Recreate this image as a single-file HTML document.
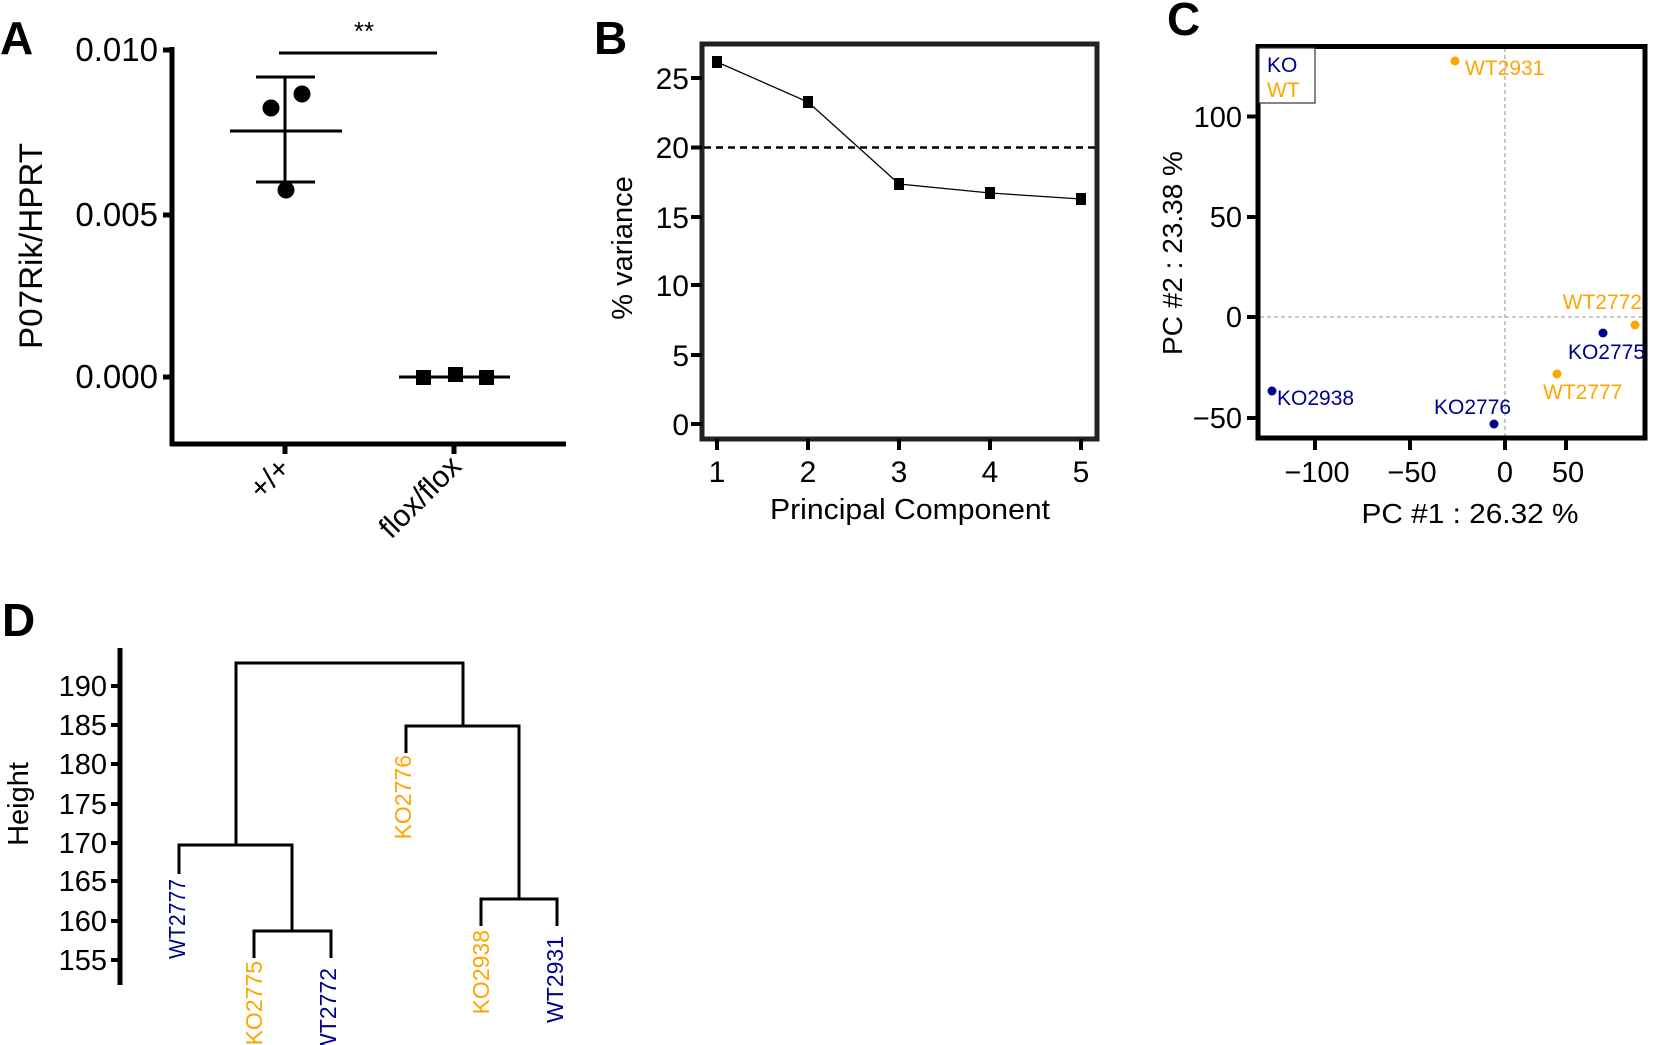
<!DOCTYPE html>
<html><head><meta charset="utf-8"><style>
html,body{margin:0;padding:0;background:#fff;overflow:hidden}
svg{display:block;font-family:"Liberation Sans",Arial,sans-serif}
</style></head><body>
<svg width="1653" height="1045" viewBox="0 0 1653 1045" xmlns="http://www.w3.org/2000/svg">
<g font-weight="bold" font-size="46">
<text x="0" y="54">A</text>
<text x="594" y="54">B</text>
<text x="1167" y="35">C</text>
<text x="2" y="636">D</text>
</g>

<!-- Panel A -->
<g stroke="#000" stroke-width="5" fill="none">
<line x1="172" y1="47" x2="172" y2="446"/>
<line x1="170" y1="444" x2="566" y2="444"/>
<line x1="163" y1="50" x2="172" y2="50"/>
<line x1="163" y1="215" x2="172" y2="215"/>
<line x1="163" y1="377" x2="172" y2="377"/>
<line x1="285" y1="444" x2="285" y2="454"/>
<line x1="454" y1="444" x2="454" y2="454"/>
</g>
<g stroke="#000" stroke-width="3" fill="none">
<line x1="279" y1="53" x2="437" y2="53"/>
<line x1="285" y1="77" x2="285" y2="182"/>
<line x1="256" y1="77" x2="315" y2="77"/>
<line x1="230" y1="131" x2="342" y2="131"/>
<line x1="256" y1="182" x2="315" y2="182"/>
<line x1="399" y1="377" x2="510" y2="377"/>
</g>
<g fill="#000">
<circle cx="271" cy="108" r="8.5"/><circle cx="302" cy="94" r="8.5"/><circle cx="286" cy="190" r="8.5"/>
<rect x="416" y="370" width="15" height="15"/><rect x="448" y="367" width="15" height="15"/><rect x="479" y="370" width="15" height="15"/>
</g>
<g font-size="33" text-anchor="end">
<text x="158" y="61">0.010</text>
<text x="158" y="226">0.005</text>
<text x="158" y="388">0.000</text>
</g>
<text x="364" y="40" font-size="26" text-anchor="middle">**</text>
<text transform="translate(42,246) rotate(-90)" font-size="32" text-anchor="middle" textLength="206" lengthAdjust="spacingAndGlyphs">P07Rik/HPRT</text>
<text transform="translate(292,470) rotate(-45)" font-size="30" text-anchor="end">+/+</text>
<text transform="translate(463,468) rotate(-45)" font-size="30" text-anchor="end">flox/flox</text>

<!-- Panel B -->
<rect x="702" y="44" width="395" height="395" fill="none" stroke="#222" stroke-width="5"/>
<g stroke="#000" stroke-width="4">
<line x1="691" y1="78" x2="702" y2="78"/><line x1="691" y1="147.5" x2="702" y2="147.5"/>
<line x1="691" y1="217" x2="702" y2="217"/><line x1="691" y1="285" x2="702" y2="285"/>
<line x1="691" y1="355" x2="702" y2="355"/><line x1="691" y1="424" x2="702" y2="424"/>
<line x1="717" y1="439" x2="717" y2="450"/><line x1="808" y1="439" x2="808" y2="450"/>
<line x1="899" y1="439" x2="899" y2="450"/><line x1="990" y1="439" x2="990" y2="450"/>
<line x1="1081" y1="439" x2="1081" y2="450"/>
</g>
<line x1="704" y1="147.5" x2="1095" y2="147.5" stroke="#000" stroke-width="2.5" stroke-dasharray="7,5"/>
<polyline points="717,62 808,102 899,184 990,193 1081,199" fill="none" stroke="#000" stroke-width="1.3"/>
<g fill="#000">
<rect x="712" y="56" width="10" height="12"/><rect x="803" y="96" width="10" height="12"/>
<rect x="894" y="178" width="10" height="12"/><rect x="985" y="187" width="10" height="12"/>
<rect x="1076" y="193" width="10" height="12"/>
</g>
<g font-size="30" text-anchor="end">
<text x="689" y="89">25</text><text x="689" y="158">20</text><text x="689" y="228">15</text>
<text x="689" y="296">10</text><text x="689" y="366">5</text><text x="689" y="435">0</text>
</g>
<g font-size="30" text-anchor="middle">
<text x="717" y="482">1</text><text x="808" y="482">2</text><text x="899" y="482">3</text>
<text x="990" y="482">4</text><text x="1081" y="482">5</text>
</g>
<text x="910" y="519" font-size="29" text-anchor="middle" textLength="280" lengthAdjust="spacingAndGlyphs">Principal Component</text>
<text transform="translate(632,248) rotate(-90)" font-size="29" text-anchor="middle">% variance</text>

<!-- Panel C -->
<line x1="1505" y1="48" x2="1505" y2="436" stroke="#aaa" stroke-width="1.3" stroke-dasharray="4,3"/>
<line x1="1260" y1="317" x2="1643" y2="317" stroke="#aaa" stroke-width="1.3" stroke-dasharray="4,3"/>
<rect x="1258" y="46.5" width="387" height="391.5" fill="none" stroke="#000" stroke-width="5"/>
<rect x="1259" y="48" width="56" height="55" fill="#fff" stroke="#333" stroke-width="1.2"/>
<text x="1267" y="72" font-size="21" fill="#00008B">KO</text>
<text x="1267" y="97" font-size="21" fill="#FFA500">WT</text>
<g stroke="#000" stroke-width="4">
<line x1="1247" y1="116.5" x2="1258" y2="116.5"/><line x1="1247" y1="217" x2="1258" y2="217"/>
<line x1="1247" y1="317" x2="1258" y2="317"/><line x1="1247" y1="418" x2="1258" y2="418"/>
<line x1="1315" y1="438" x2="1315" y2="450"/><line x1="1410" y1="438" x2="1410" y2="450"/>
<line x1="1505" y1="438" x2="1505" y2="450"/><line x1="1566" y1="438" x2="1566" y2="450"/>
</g>
<g font-size="29" text-anchor="end">
<text x="1242" y="127">100</text><text x="1242" y="227">50</text>
<text x="1242" y="327">0</text><text x="1242" y="428">−50</text>
</g>
<g font-size="29" text-anchor="middle">
<text x="1317" y="482">−100</text><text x="1412" y="482">−50</text>
<text x="1505" y="482">0</text><text x="1568" y="482">50</text>
</g>
<text x="1470" y="523" font-size="28" text-anchor="middle" textLength="217" lengthAdjust="spacingAndGlyphs">PC #1 : 26.32 %</text>
<text transform="translate(1182,253) rotate(-90)" font-size="28" text-anchor="middle">PC #2 : 23.38 %</text>
<g fill="#FFA500">
<circle cx="1455" cy="61" r="4.5"/><circle cx="1635" cy="325" r="4.5"/><circle cx="1557" cy="374" r="4.5"/>
</g>
<g fill="#00008B">
<circle cx="1603" cy="333" r="4.5"/><circle cx="1272" cy="391" r="4.5"/><circle cx="1494" cy="424" r="4.5"/>
</g>
<g font-size="21">
<text x="1465" y="75" fill="#FFA500">WT2931</text>
<text x="1642" y="309" fill="#FFA500" text-anchor="end">WT2772</text>
<text x="1645" y="359" fill="#00008B" text-anchor="end">KO2775</text>
<text x="1543" y="399" fill="#FFA500">WT2777</text>
<text x="1277" y="405" fill="#00008B">KO2938</text>
<text x="1434" y="414" fill="#00008B">KO2776</text>
</g>

<!-- Panel D -->
<line x1="120" y1="648" x2="120" y2="985" stroke="#000" stroke-width="5"/>
<g stroke="#000" stroke-width="4">
<line x1="111" y1="686" x2="120" y2="686"/><line x1="111" y1="725" x2="120" y2="725"/>
<line x1="111" y1="764" x2="120" y2="764"/><line x1="111" y1="804" x2="120" y2="804"/>
<line x1="111" y1="843" x2="120" y2="843"/><line x1="111" y1="881" x2="120" y2="881"/>
<line x1="111" y1="921" x2="120" y2="921"/><line x1="111" y1="960" x2="120" y2="960"/>
</g>
<g font-size="29" text-anchor="end">
<text x="107" y="696">190</text><text x="107" y="735">185</text><text x="107" y="774">180</text>
<text x="107" y="814">175</text><text x="107" y="853">170</text><text x="107" y="891">165</text>
<text x="107" y="931">160</text><text x="107" y="970">155</text>
</g>
<text transform="translate(28,804) rotate(-90)" font-size="29" text-anchor="middle">Height</text>
<g stroke="#000" stroke-width="3" fill="none">
<polyline points="236,845 236,663 463,663 463,726"/>
<polyline points="179,874 179,845 292,845 292,931"/>
<polyline points="254,958 254,931 331,931 331,958"/>
<polyline points="406,753 406,726 519,726 519,899"/>
<polyline points="481,926 481,899 557,899 557,926"/>
</g>
<g font-size="23" text-anchor="end">
<text transform="translate(185,879) rotate(-90)" fill="#00008B" textLength="80" lengthAdjust="spacingAndGlyphs">WT2777</text>
<text transform="translate(262,961) rotate(-90)" fill="#FFA500">KO2775</text>
<text transform="translate(336,968) rotate(-90)" fill="#00008B">WT2772</text>
<text transform="translate(411,755) rotate(-90)" fill="#FFA500">KO2776</text>
<text transform="translate(489,930) rotate(-90)" fill="#FFA500">KO2938</text>
<text transform="translate(563,936) rotate(-90)" fill="#00008B">WT2931</text>
</g>
</svg>
</body></html>
